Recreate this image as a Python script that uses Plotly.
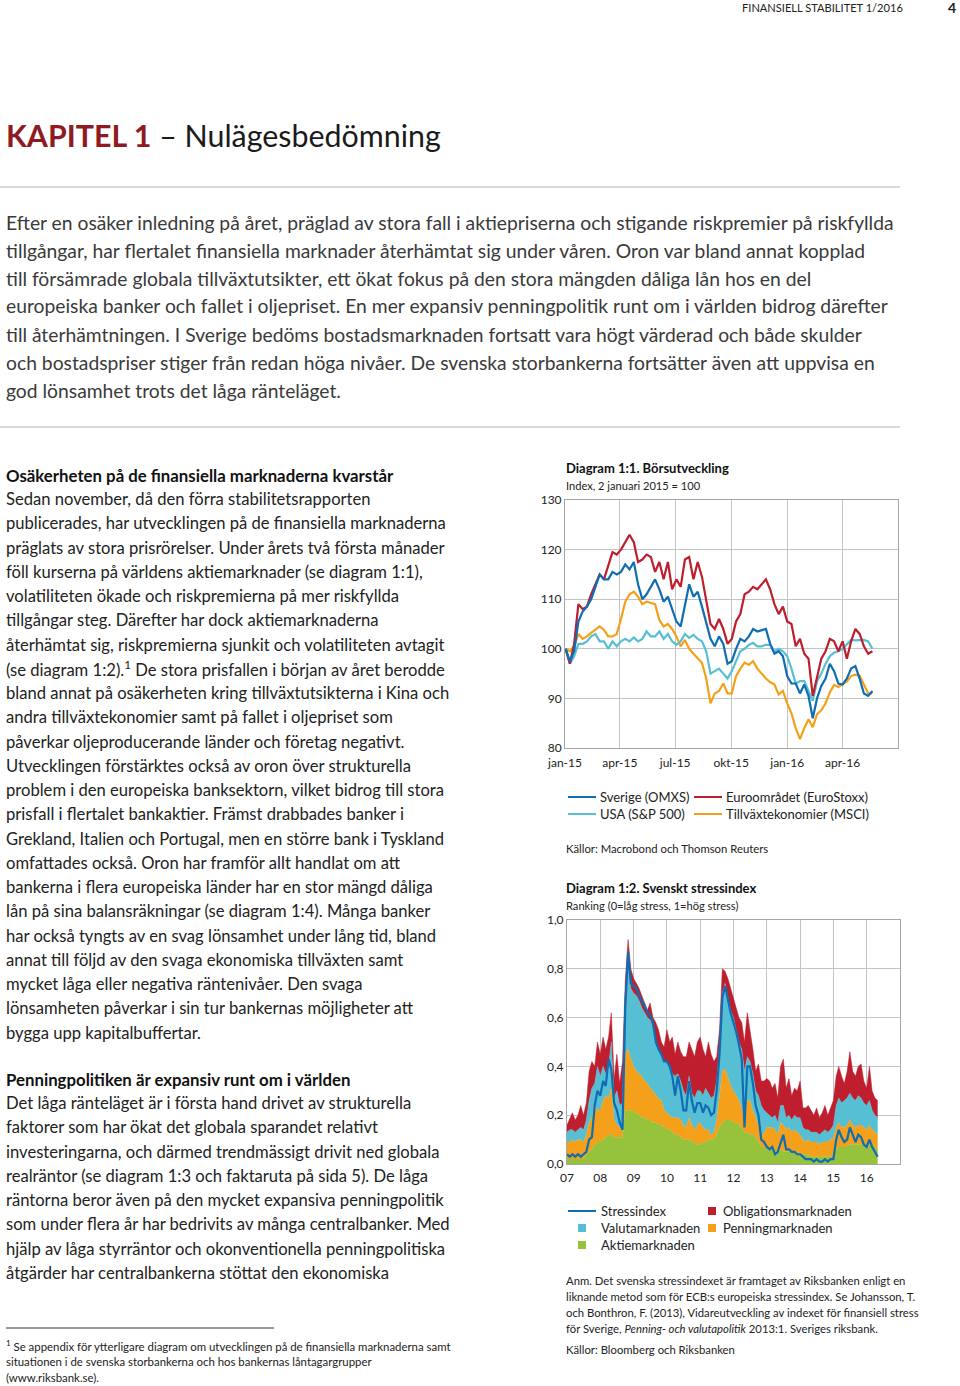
import plotly.graph_objects as go
import pandas as pd

W, H = 960, 1386
def px(x): return x / W
def py(y): return 1 - y / H

# ---------------- Diagram 1:1 data (weekly, from 2 Jan 2015) ----------------
weeks_start = "2015-01-02"
euro = [100, 97, 101, 109, 108,
        108.5, 111, 113, 115,
        114, 117, 119.5, 119,
        120, 121.5, 123, 121.5,
        117.5, 118, 119, 118.5, 115.5,
        117.5, 114, 117.5, 112,
        114, 112.5, 118, 118.5, 114,
        117.5, 114.5, 110, 105,
        104, 106, 104, 101,
        102, 105.5, 107, 111, 111.5,
        112.5, 112, 113, 114,
        112, 109, 107, 108.5,
        105.5, 105, 100.5, 102, 99,
        98, 90.5, 94.5, 98,
        99.5, 102, 101.5, 99.5,
        101.5, 98, 101.5, 104, 103,
        100.5, 99, 99.5]
sverige = [100, 97.5, 99.5, 105.5, 107.5,
           108.5, 110, 112.5, 115,
           114, 114, 115.5, 115,
           115.5, 117, 116, 117.5,
           113, 110, 111, 112.5, 114,
           112, 109.5, 110.5, 108,
           105.5, 104.5, 109, 113, 110.5,
           111.5, 108.5, 105.5, 102,
           100.5, 102.5, 101, 97,
           97.5, 100, 102, 101.5, 102.5,
           104, 103.5, 103.8, 104,
           101, 99, 99.5, 98.5,
           94.5, 93, 93, 91, 92.8,
           90.5, 86, 90, 92.5,
           94, 97, 95.5, 93,
           92.8, 94, 96, 96.5, 94,
           91, 90.5, 91.5]
usa = [100, 97, 98.5, 101, 101,
       101.5, 102.5, 103, 101.5,
       101.5, 100, 101.5, 100.5,
       101.5, 102, 101.5, 102.3,
       101.5, 102, 103.5, 102.5, 102.5,
       103.5, 102, 103, 101.5,
       100.8, 101.5, 103, 102.2, 102.8,
       102, 101.5, 99.5, 95,
       95.5, 96, 95, 94,
       95.5, 97.5, 99.5, 100, 100.8,
       101.2, 100.5, 100.5, 100.8,
       100.8, 99.5, 100, 99.5,
       98.5, 96, 93, 93.5, 93.5,
       91.5, 89.5, 93.5, 95,
       97, 98.5, 99.2, 99.5,
       100, 100.8, 101.8, 101.7, 101.8,
       101.8, 101.5, 100]
emerging = [100, 99.5, 100.5, 103, 102,
            102.5, 103.2, 103.8, 104.5,
            103.8, 102.5, 102.5, 103,
            106, 109.5, 111, 111.5,
            110.5, 109, 109.5, 109.3, 109,
            105.8, 104.5, 105, 104,
            102.5, 100.5, 101.8, 100, 99,
            98.2, 97.2, 94, 89,
            91, 91.5, 93, 91,
            91, 94.5, 96, 97.2, 96.8,
            97.5, 96, 95, 94,
            93.3, 92.8, 90.8, 91.5,
            89, 87, 84, 81.8, 84,
            85.8, 84.2, 86.8, 87.6,
            89, 91.2, 92.7, 92.3,
            92.8, 93.4, 94.5, 94.8, 94.6,
            92.8, 91, 91]
q_ticks = ["2015-01-01", "2015-04-01", "2015-07-01", "2015-10-01", "2016-01-01", "2016-04-01"]
q_labels = ["jan-15", "apr-15", "jul-15", "okt-15", "jan-16", "apr-16"]

# ---------------- Diagram 1:2 data (monthly, Jan 2007 - May 2016) ----------------
# cumulative tops of stacked layers: aktie (green), +penning (orange), +valuta (light blue), +obligation (red)
months_start = "2007-01-01"
aktie_top = [0.02, 0.02, 0.02, 0.02, 0.02, 0.02, 0.02, 0.04, 0.05, 0.06, 0.08, 0.09,
             0.09, 0.10, 0.11, 0.12, 0.12, 0.11, 0.11, 0.11, 0.11, 0.22, 0.22, 0.22,
             0.21, 0.21, 0.20, 0.19, 0.19, 0.18, 0.18, 0.17, 0.17, 0.16, 0.16, 0.15,
             0.14, 0.14, 0.13, 0.12, 0.12, 0.11, 0.10, 0.10, 0.10, 0.09, 0.09, 0.08,
             0.08, 0.09, 0.09, 0.10, 0.10, 0.10, 0.12, 0.15, 0.17, 0.18, 0.18, 0.18,
             0.17, 0.17, 0.16, 0.15, 0.13, 0.13, 0.12, 0.12, 0.11, 0.09, 0.07, 0.07,
             0.06, 0.06, 0.06, 0.05, 0.05, 0.06, 0.05, 0.05, 0.05, 0.05, 0.05, 0.05,
             0.04, 0.04, 0.04, 0.04, 0.03, 0.03, 0.03, 0.03, 0.03, 0.03, 0.03, 0.03,
             0.04, 0.06, 0.07, 0.07, 0.07, 0.07, 0.08, 0.08, 0.08, 0.08, 0.08, 0.08,
             0.08, 0.08, 0.07, 0.07, 0.06]
penning_top = [0.09, 0.09, 0.10, 0.09, 0.10, 0.10, 0.09, 0.12, 0.17, 0.19, 0.24, 0.22,
               0.22, 0.26, 0.28, 0.27, 0.31, 0.18, 0.16, 0.15, 0.13, 0.45, 0.47, 0.43,
               0.40, 0.38, 0.37, 0.36, 0.34, 0.33, 0.31, 0.30, 0.28, 0.27, 0.26, 0.22,
               0.21, 0.20, 0.19, 0.19, 0.19, 0.18, 0.16, 0.15, 0.19, 0.16, 0.14, 0.16,
               0.17, 0.15, 0.14, 0.14, 0.12, 0.13, 0.18, 0.28, 0.38, 0.39, 0.35, 0.32,
               0.30, 0.28, 0.26, 0.23, 0.18, 0.26, 0.26, 0.22, 0.19, 0.16, 0.11, 0.13,
               0.15, 0.15, 0.15, 0.14, 0.12, 0.17, 0.16, 0.14, 0.15, 0.13, 0.14, 0.13,
               0.12, 0.10, 0.09, 0.10, 0.09, 0.09, 0.09, 0.08, 0.09, 0.09, 0.09, 0.10,
               0.11, 0.15, 0.17, 0.15, 0.15, 0.16, 0.18, 0.16, 0.15, 0.16, 0.16, 0.15,
               0.14, 0.16, 0.14, 0.13, 0.12]
valuta_top = [0.13, 0.14, 0.14, 0.13, 0.14, 0.15, 0.14, 0.18, 0.26, 0.31, 0.33, 0.40,
              0.36, 0.40, 0.37, 0.40, 0.50, 0.27, 0.30, 0.24, 0.25, 0.68, 0.82, 0.72,
              0.70, 0.69, 0.67, 0.64, 0.62, 0.60, 0.59, 0.56, 0.50, 0.47, 0.45, 0.42,
              0.42, 0.40, 0.37, 0.36, 0.37, 0.34, 0.30, 0.28, 0.36, 0.29, 0.27, 0.30,
              0.30, 0.28, 0.31, 0.29, 0.27, 0.28, 0.34, 0.48, 0.70, 0.74, 0.69, 0.63,
              0.60, 0.55, 0.50, 0.47, 0.38, 0.44, 0.42, 0.37, 0.30, 0.28, 0.24, 0.22,
              0.21, 0.20, 0.19, 0.20, 0.17, 0.24, 0.24, 0.19, 0.20, 0.18, 0.20, 0.19,
              0.19, 0.15, 0.14, 0.14, 0.13, 0.13, 0.13, 0.12, 0.13, 0.14, 0.13, 0.14,
              0.16, 0.24, 0.27, 0.25, 0.26, 0.27, 0.29, 0.27, 0.26, 0.28, 0.27, 0.25,
              0.24, 0.26, 0.22, 0.20, 0.19]
oblig_top = [0.16, 0.19, 0.21, 0.18, 0.20, 0.24, 0.20, 0.25, 0.38, 0.42, 0.40, 0.50,
             0.45, 0.52, 0.47, 0.52, 0.62, 0.35, 0.45, 0.33, 0.42, 0.75, 0.92, 0.80,
             0.76, 0.74, 0.72, 0.69, 0.66, 0.63, 0.66, 0.60, 0.58, 0.55, 0.50, 0.48,
             0.55, 0.50, 0.52, 0.45, 0.50, 0.46, 0.44, 0.44, 0.50, 0.47, 0.44, 0.50,
             0.52, 0.47, 0.44, 0.50, 0.45, 0.42, 0.44, 0.55, 0.80, 0.79, 0.76, 0.72,
             0.68, 0.63, 0.60, 0.58, 0.50, 0.62, 0.55, 0.47, 0.38, 0.41, 0.34, 0.34,
             0.35, 0.34, 0.31, 0.33, 0.27, 0.40, 0.43, 0.31, 0.35, 0.28, 0.31, 0.30,
             0.34, 0.23, 0.23, 0.24, 0.22, 0.20, 0.23, 0.19, 0.21, 0.24, 0.20, 0.23,
             0.26, 0.36, 0.40, 0.36, 0.33, 0.38, 0.46, 0.38, 0.36, 0.40, 0.41, 0.34,
             0.31, 0.40, 0.30, 0.27, 0.26]
stressindex = [0.04, 0.03, 0.04, 0.03, 0.04, 0.03, 0.04, 0.05, 0.10, 0.11, 0.24, 0.30,
               0.28, 0.34, 0.32, 0.43, 0.39, 0.25, 0.22, 0.17, 0.14, 0.64, 0.87, 0.74,
               0.73, 0.72, 0.69, 0.67, 0.65, 0.62, 0.61, 0.58, 0.50, 0.47, 0.45, 0.42,
               0.42, 0.40, 0.36, 0.28, 0.36, 0.30, 0.22, 0.22, 0.34, 0.26, 0.21, 0.25,
               0.25, 0.21, 0.24, 0.23, 0.20, 0.21, 0.30, 0.45, 0.68, 0.73, 0.67, 0.62,
               0.58, 0.54, 0.49, 0.43, 0.15, 0.40, 0.40, 0.33, 0.24, 0.20, 0.10, 0.09,
               0.07, 0.06, 0.07, 0.04, 0.05, 0.09, 0.12, 0.06, 0.06, 0.05, 0.05, 0.04,
               0.04, 0.03, 0.02, 0.02, 0.02, 0.01, 0.02, 0.01, 0.01, 0.02, 0.01, 0.02,
               0.02, 0.10, 0.14, 0.11, 0.09, 0.10, 0.15, 0.12, 0.09, 0.12, 0.11, 0.08,
               0.07, 0.10, 0.07, 0.05, 0.03]
year_ticks = [f"{y}-01-01" for y in range(2007, 2017)]
year_labels = ["07", "08", "09", "10", "11", "12", "13", "14", "15", "16"]
y2_ticks = [0, 0.2, 0.4, 0.6, 0.8, 1.0]
y2_labels = ["0,0", "0,2", "0,4", "0,6", "0,8", "1,0"]

# ---------------- colours ----------------
C_BLUE = "#0F6DB3"
C_RED = "#BE1E2D"
C_LBLUE = "#56BFD3"
C_ORANGE = "#F5A01A"
C_GREEN = "#97C23C"
GRID = "#C4C4C4"
BORDER = "#A6A6A6"
FONT = "Lato"

wdates = pd.date_range(weeks_start, periods=len(euro), freq="7D")
mdates = pd.date_range(months_start, periods=len(oblig_top), freq="MS")

fig = go.Figure()
for name, vals, col in [("Tillväxtekonomier (MSCI)", emerging, C_ORANGE),
                        ("USA (S&P 500)", usa, C_LBLUE),
                        ("Euroområdet (EuroStoxx)", euro, C_RED),
                        ("Sverige (OMXS)", sverige, C_BLUE)]:
    fig.add_trace(go.Scatter(x=wdates, y=vals, mode="lines", name=name,
                             line=dict(color=col, width=2.2), xaxis="x", yaxis="y",
                             showlegend=False))

fig.add_trace(go.Scatter(x=mdates, y=aktie_top, mode="lines", fill="tozeroy",
                         fillcolor=C_GREEN, line=dict(color=C_GREEN, width=0.5),
                         xaxis="x2", yaxis="y2", showlegend=False, name="Aktiemarknaden"))
fig.add_trace(go.Scatter(x=mdates, y=penning_top, mode="lines", fill="tonexty",
                         fillcolor=C_ORANGE, line=dict(color=C_ORANGE, width=0.5),
                         xaxis="x2", yaxis="y2", showlegend=False, name="Penningmarknaden"))
fig.add_trace(go.Scatter(x=mdates, y=valuta_top, mode="lines", fill="tonexty",
                         fillcolor=C_LBLUE, line=dict(color=C_LBLUE, width=0.5),
                         xaxis="x2", yaxis="y2", showlegend=False, name="Valutamarknaden"))
fig.add_trace(go.Scatter(x=mdates, y=oblig_top, mode="lines", fill="tonexty",
                         fillcolor=C_RED, line=dict(color=C_RED, width=0.5),
                         xaxis="x2", yaxis="y2", showlegend=False, name="Obligationsmarknaden"))
fig.add_trace(go.Scatter(x=mdates, y=stressindex, mode="lines",
                         line=dict(color=C_BLUE, width=2.2),
                         xaxis="x2", yaxis="y2", showlegend=False, name="Stressindex"))

axis_common = dict(showgrid=True, gridcolor=GRID, gridwidth=1, showline=True,
                   linecolor=BORDER, linewidth=1, mirror=True, ticks="",
                   zeroline=False, fixedrange=True, automargin=False,
                   tickfont=dict(family=FONT, size=12, color="#222"))

fig.update_layout(
    width=W, height=H, autosize=False,
    margin=dict(l=0, r=0, t=0, b=0, pad=0, autoexpand=False),
    paper_bgcolor="white", plot_bgcolor="white",
    showlegend=False,
    font=dict(family=FONT, color="#222"),
    xaxis=dict(domain=[px(565), px(898)], anchor="y", type="date",
               range=["2015-01-01", "2016-07-01"], tickmode="array",
               tickvals=q_ticks, ticktext=q_labels, ticklabelstandoff=4, **axis_common),
    yaxis=dict(domain=[py(748), py(500)], anchor="x", range=[80, 130],
               tickmode="array", tickvals=[80, 90, 100, 110, 120, 130], **axis_common),
    xaxis2=dict(domain=[px(567), px(900)], anchor="y2", type="date",
                range=["2007-01-01", "2017-01-01"], tickmode="array",
                tickvals=year_ticks, ticktext=year_labels, ticklabelstandoff=3, **axis_common),
    yaxis2=dict(domain=[py(1164), py(920)], anchor="x2", range=[0, 1],
                tickmode="array", tickvals=y2_ticks, ticktext=y2_labels, **axis_common),
)

ann = []
def text(x, y, s, size=16, color="#222", bold=False, anchor="left", family=FONT):
    if bold:
        s = "<b>" + s + "</b>"
    ann.append(dict(x=px(x), y=py(y), xref="paper", yref="paper", text=s,
                    showarrow=False, xanchor=anchor, yanchor="middle", align=anchor,
                    borderpad=0, font=dict(family=family, size=size, color=color)))

# header
text(904, 8, "FINANSIELL STABILITET 1/2016", size=11.1, color="#222", anchor="right")
text(957, 7, "4", size=14, color="#222", bold=True, anchor="right")
# title
ann.append(dict(x=px(5), y=py(135), xref="paper", yref="paper",
                text="<b><span style='color:#8E1B22'>KAPITEL 1</span></b> – Nulägesbedömning",
                showarrow=False, xanchor="left", yanchor="middle", borderpad=0,
                font=dict(family=FONT, size=30.4, color="#1a1a1a")))

intro = [
    "Efter en osäker inledning på året, präglad av stora fall i aktiepriserna och stigande riskpremier på riskfyllda",
    "tillgångar, har flertalet finansiella marknader återhämtat sig under våren. Oron var bland annat kopplad",
    "till försämrade globala tillväxtutsikter, ett ökat fokus på den stora mängden dåliga lån hos en del",
    "europeiska banker och fallet i oljepriset. En mer expansiv penningpolitik runt om i världen bidrog därefter",
    "till återhämtningen. I Sverige bedöms bostadsmarknaden fortsatt vara högt värderad och både skulder",
    "och bostadspriser stiger från redan höga nivåer. De svenska storbankerna fortsätter även att uppvisa en",
    "god lönsamhet trots det låga ränteläget.",
]
for i, line in enumerate(intro):
    text(5, 222 + i * 28, line, size=19.3, color="#3a3a3a")

col1 = [
    "Sedan november, då den förra stabilitetsrapporten",
    "publicerades, har utvecklingen på de finansiella marknaderna",
    "präglats av stora prisrörelser. Under årets två första månader",
    "föll kurserna på världens aktiemarknader (se diagram 1:1),",
    "volatiliteten ökade och riskpremierna på mer riskfyllda",
    "tillgångar steg. Därefter har dock aktiemarknaderna",
    "återhämtat sig, riskpremierna sjunkit och volatiliteten avtagit",
    "(se diagram 1:2).<sup>1</sup> De stora prisfallen i början av året berodde",
    "bland annat på osäkerheten kring tillväxtutsikterna i Kina och",
    "andra tillväxtekonomier samt på fallet i oljepriset som",
    "påverkar oljeproducerande länder och företag negativt.",
    "Utvecklingen förstärktes också av oron över strukturella",
    "problem i den europeiska banksektorn, vilket bidrog till stora",
    "prisfall i flertalet bankaktier. Främst drabbades banker i",
    "Grekland, Italien och Portugal, men en större bank i Tyskland",
    "omfattades också. Oron har framför allt handlat om att",
    "bankerna i flera europeiska länder har en stor mängd dåliga",
    "lån på sina balansräkningar (se diagram 1:4). Många banker",
    "har också tyngts av en svag lönsamhet under lång tid, bland",
    "annat till följd av den svaga ekonomiska tillväxten samt",
    "mycket låga eller negativa räntenivåer. Den svaga",
    "lönsamheten påverkar i sin tur bankernas möjligheter att",
    "bygga upp kapitalbuffertar.",
]
text(5, 475, "Osäkerheten på de finansiella marknaderna kvarstår", size=16.8, color="#111", bold=True)
for i, line in enumerate(col1):
    text(5, 499 + i * 24.25, line, size=16.6, color="#222")

col2 = [
    "Det låga ränteläget är i första hand drivet av strukturella",
    "faktorer som har ökat det globala sparandet relativt",
    "investeringarna, och därmed trendmässigt drivit ned globala",
    "realräntor (se diagram 1:3 och faktaruta på sida 5). De låga",
    "räntorna beror även på den mycket expansiva penningpolitik",
    "som under flera år har bedrivits av många centralbanker. Med",
    "hjälp av låga styrräntor och okonventionella penningpolitiska",
    "åtgärder har centralbankerna stöttat den ekonomiska",
]
text(5, 1079, "Penningpolitiken är expansiv runt om i världen", size=16.8, color="#111", bold=True)
for i, line in enumerate(col2):
    text(5, 1103 + i * 24.25, line, size=16.6, color="#222")

foot = [
    "<sup>1</sup> Se appendix för ytterligare diagram om utvecklingen på de finansiella marknaderna samt",
    "situationen i de svenska storbankerna och hos bankernas låntagargrupper",
    "(www.riksbank.se).",
]
for i, line in enumerate(foot):
    text(5, 1345 + i * 16, line, size=11.4, color="#222")

# chart 1 texts
text(565, 468, "Diagram 1:1. Börsutveckling", size=13, color="#111", bold=True)
text(565, 485, "Index, 2 januari 2015 = 100", size=11.1, color="#222")
leg1 = [(568, 797, "Sverige (OMXS)", C_BLUE), (694, 797, "Euroområdet (EuroStoxx)", C_RED),
        (568, 814, "USA (S&P 500)", C_LBLUE), (694, 814, "Tillväxtekonomier (MSCI)", C_ORANGE)]
shapes = []
for x0, y0, lab, col in leg1:
    shapes.append(dict(type="line", xref="paper", yref="paper", x0=px(x0), x1=px(x0 + 28),
                       y0=py(y0), y1=py(y0), line=dict(color=col, width=2)))
    text(x0 + 31, y0, lab, size=13, color="#222")
text(565, 848, "Källor: Macrobond och Thomson Reuters", size=11.3, color="#222")

# chart 2 texts
text(565, 888, "Diagram 1:2. Svenskt stressindex", size=13, color="#111", bold=True)
text(565, 905, "Ranking (0=låg stress, 1=hög stress)", size=11.1, color="#222")
shapes.append(dict(type="line", xref="paper", yref="paper", x0=px(568), x1=px(596),
                   y0=py(1211), y1=py(1211), line=dict(color=C_BLUE, width=2)))
text(600, 1211, "Stressindex", size=13, color="#222")
for x0, y0, lab, col in [(708, 1211, "Obligationsmarknaden", C_RED),
                         (578, 1228, "Valutamarknaden", C_LBLUE),
                         (708, 1228, "Penningmarknaden", C_ORANGE),
                         (578, 1245, "Aktiemarknaden", C_GREEN)]:
    shapes.append(dict(type="rect", xref="paper", yref="paper", x0=px(x0), x1=px(x0 + 8),
                       y0=py(y0 + 4), y1=py(y0 - 4), line=dict(width=0), fillcolor=col))
    text(x0 + 22 if x0 < 700 else x0 + 14, y0, lab, size=13, color="#222")

note = [
    "Anm. Det svenska stressindexet är framtaget av Riksbanken enligt en",
    "liknande metod som för ECB:s europeiska stressindex. Se Johansson, T.",
    "och Bonthron, F. (2013), Vidareutveckling av indexet för finansiell stress",
    "för Sverige, <i>Penning- och valutapolitik</i> 2013:1. Sveriges riksbank.",
]
for i, line in enumerate(note):
    text(565, 1280 + i * 16, line, size=11.3, color="#222")
text(565, 1349, "Källor: Bloomberg och Riksbanken", size=11.3, color="#222")

# rules
shapes.append(dict(type="line", xref="paper", yref="paper", x0=0, x1=px(900), y0=py(187), y1=py(187),
                   line=dict(color="#BFAFAF", width=1)))
shapes.append(dict(type="line", xref="paper", yref="paper", x0=0, x1=px(900), y0=py(427), y1=py(427),
                   line=dict(color="#BFAFAF", width=1)))
shapes.append(dict(type="line", xref="paper", yref="paper", x0=px(6), x1=px(274), y0=py(1328), y1=py(1328),
                   line=dict(color="#333", width=1)))

fig.update_layout(annotations=ann, shapes=shapes)
fig.write_html("out.html", config={"displayModeBar": False},
               post_script="document.body.style.margin='0';document.body.style.overflow='hidden';")
